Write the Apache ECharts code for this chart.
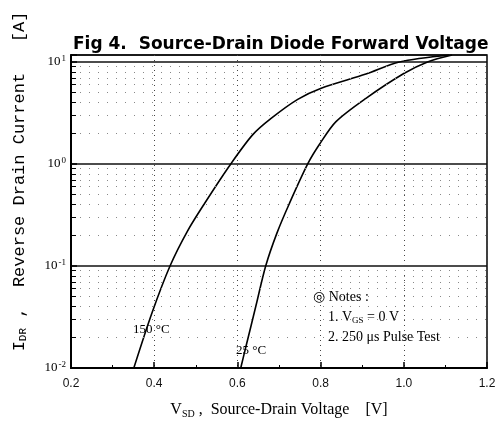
<!DOCTYPE html>
<html>
<head>
<meta charset="utf-8">
<script src="https://cdn.jsdelivr.net/npm/echarts@6/dist/echarts.min.js"></script>
<style>
  html, body { margin: 0; padding: 0; background: #fff; }
  #chart { width: 503px; height: 424px; }
</style>
</head>
<body>
<div id="chart"></div>
<script>
  // V_SD [V] vs I_DR [A]
  var v150 = [0.351, 0.395, 0.438, 0.480, 0.521, 0.584, 0.637, 0.681, 0.745, 0.800, 0.909, 0.989, 1.109];
  var i150 = [0.01, 0.035, 0.1, 0.22, 0.41, 1.0, 1.94, 2.8, 4.3, 5.5, 7.6, 10, 11.7];
  var v25 = [0.608, 0.621, 0.645, 0.668, 0.695, 0.725, 0.769, 0.797, 0.837, 0.909, 1.0, 1.057, 1.116];
  var i25 = [0.01, 0.0165, 0.0414, 0.1, 0.21, 0.41, 1.0, 1.55, 2.6, 4.4, 7.7, 10, 11.7];

  var xTicks = [0.2, 0.4, 0.6, 0.8, 1.0, 1.2];
  var yDecades = [0.01, 0.1, 1];
  var yMinorSteps = [2, 3, 4, 5, 6, 7, 8, 9];
  var curveLabels = ['150 \u00b0C', '25 \u00b0C'];
  var labelPos150 = [0.393, 0.0237];
  var labelPos25 = [0.633, 0.0147];

  function zip(xs, ys) {
    return xs.map(function (x, i) { return [x, ys[i]]; });
  }

  var minorLines = [];
  var minorTicks = [];
  yDecades.forEach(function (d) {
    yMinorSteps.forEach(function (m) {
      var v = +(d * m).toPrecision(3);
      minorLines.push({ yAxis: v });
      minorTicks.push([{ coord: [xTicks[0], v] }, { coord: [xTicks[0] + 0.012, v] }]);
    });
  });

  var chart = echarts.init(document.getElementById('chart'));

  var serifFont = '"Liberation Serif", "DejaVu Serif", serif';

  var option = {
    backgroundColor: '#fff',
    animation: false,
    title: [
      {
        text: 'Fig 4.  Source-Drain Diode Forward Voltage',
        left: 73,
        top: 36,
        padding: 0,
        textStyle: {
          fontFamily: '"DejaVu Sans", "Liberation Sans", sans-serif',
          fontWeight: 'bold',
          fontSize: 17,
          color: '#000'
        }
      },
      {
        text: '\u25ce Notes :',
        left: 313,
        top: 290,
        padding: 0,
        textStyle: { fontFamily: serifFont, fontSize: 14, fontWeight: 'normal', color: '#000' }
      },
      {
        text: '1. V{sub|GS} = 0 V',
        left: 328,
        top: 309,
        padding: 0,
        textStyle: {
          fontFamily: serifFont, fontSize: 14, fontWeight: 'normal', color: '#000',
          rich: { sub: { fontFamily: serifFont, fontSize: 9, padding: [7, 0, 0, 0], color: '#000' } }
        }
      },
      {
        text: '2. 250 \u03bcs Pulse Test',
        left: 328,
        top: 330,
        padding: 0,
        textStyle: { fontFamily: serifFont, fontSize: 14, fontWeight: 'normal', color: '#000' }
      }
    ],
    grid: {
      left: 71,
      right: 16,
      top: 55,
      bottom: 50,
      show: true,
      borderColor: '#000',
      borderWidth: 1.5
    },
    xAxis: {
      type: 'value',
      min: 0.2,
      max: 1.2,
      interval: 0.2,
      name: 'V{sub|SD} ,  Source-Drain Voltage    [V]',
      nameLocation: 'middle',
      nameGap: 32,
      nameTextStyle: {
        fontFamily: serifFont,
        fontSize: 16,
        color: '#000',
        rich: { sub: { fontFamily: serifFont, fontSize: 10, padding: [9, 0, 0, 0], color: '#000' } }
      },
      axisLine: { lineStyle: { color: '#000', width: 2 } },
      axisTick: { inside: true, length: 6, lineStyle: { color: '#000', width: 1.5 } },
      minorTick: { show: true, splitNumber: 2, length: 3, lineStyle: { color: '#000', width: 1 } },
      axisLabel: {
        margin: 10,
        fontFamily: '"Liberation Sans", Arial, sans-serif',
        fontSize: 12,
        color: '#111',
        formatter: function (v) { return v.toFixed(1); }
      },
      splitLine: { show: true, lineStyle: { color: '#444', width: 1, type: [1, 4] } }
    },
    yAxis: {
      type: 'log',
      logBase: 10,
      min: 0.01,
      max: 11.7,
      name: 'I{sub|DR} ,  Reverse Drain Current   [A]',
      nameLocation: 'middle',
      nameRotate: 90,
      nameGap: 42,
      nameTextStyle: {
        fontFamily: '"Liberation Mono", "DejaVu Sans Mono", monospace',
        fontSize: 17,
        color: '#000',
        padding: [0, 0, 0, 60],
        rich: { sub: { fontFamily: '"Liberation Mono", monospace', fontSize: 11, padding: [8, 0, 0, 0], color: '#000' } }
      },
      axisLine: { show: true, lineStyle: { color: '#000', width: 2 } },
      axisTick: { show: true, inside: true, length: 6, lineStyle: { color: '#000', width: 1.5 } },
      axisLabel: {
        margin: 5,
        color: '#000',
        formatter: function (v) {
          var e = Math.log10(v);
          if (Math.abs(e - Math.round(e)) > 1e-6) return '';
          return '{b|10}{s|' + Math.round(e) + '}';
        },
        rich: {
          b: { fontFamily: serifFont, fontSize: 13, color: '#000' },
          s: { fontFamily: serifFont, fontSize: 9, color: '#000', padding: [0, 0, 7, 1] }
        }
      },
      splitLine: { show: true, lineStyle: { color: '#111', width: 1.5 } }
    },
    series: [
      {
        name: '150',
        type: 'line',
        data: zip(v150, i150),
        smooth: 0.3,
        showSymbol: false,
        lineStyle: { color: '#000', width: 1.6 },
        markLine: {
          silent: true,
          symbol: ['none', 'none'],
          label: { show: false },
          lineStyle: { color: '#888', width: 1, type: [1, 8] },
          data: minorLines
        },
        markPoint: {
          symbol: 'circle',
          symbolSize: 1,
          itemStyle: { color: 'rgba(0,0,0,0)' },
          label: {
            show: true,
            position: 'inside',
            fontFamily: serifFont,
            fontSize: 13,
            color: '#000',
            formatter: curveLabels[0]
          },
          data: [{ coord: labelPos150 }]
        }
      },
      {
        name: '25',
        type: 'line',
        data: zip(v25, i25),
        smooth: 0.3,
        showSymbol: false,
        lineStyle: { color: '#000', width: 1.6 },
        markLine: {
          silent: true,
          symbol: ['none', 'none'],
          label: { show: false },
          lineStyle: { color: '#000', width: 1, type: 'solid' },
          data: minorTicks
        },
        markPoint: {
          symbol: 'circle',
          symbolSize: 1,
          itemStyle: { color: 'rgba(0,0,0,0)' },
          label: {
            show: true,
            position: 'inside',
            fontFamily: serifFont,
            fontSize: 13,
            color: '#000',
            formatter: curveLabels[1]
          },
          data: [{ coord: labelPos25 }]
        }
      }
    ]
  };

  chart.setOption(option);
</script>
</body>
</html>
